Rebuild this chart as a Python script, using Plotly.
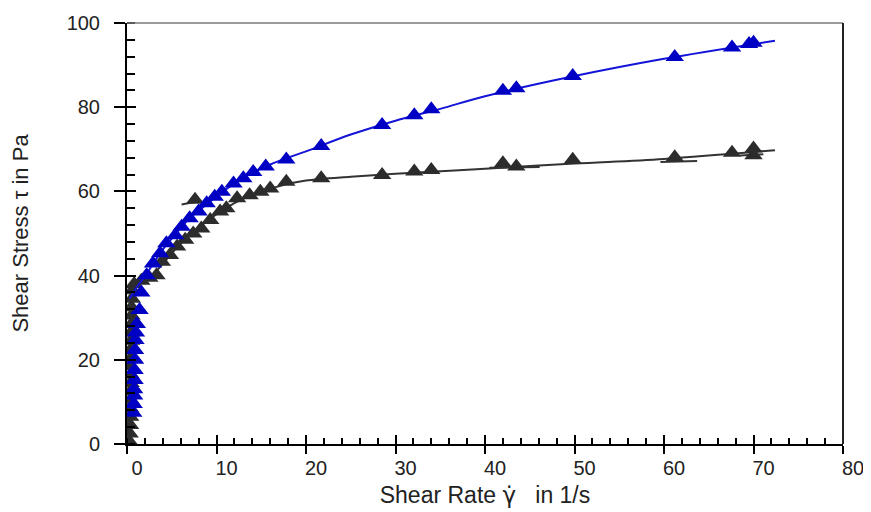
import plotly.graph_objects as go

# ---- data ----
blue_x = [0.7, 0.75, 0.8, 0.8, 0.85, 0.85, 0.9, 0.9, 0.95, 1.0, 1.1, 1.4, 1.6, 2.2, 2.9, 3.7, 4.4, 5.4, 6.1,
          7.0, 8.0, 8.9, 9.8, 10.6, 11.9, 13.0, 14.1, 15.5, 17.8, 21.7, 28.5, 32.1, 34.0, 42.0, 43.5,
          49.8, 61.2, 67.6, 69.5, 70.0]
blue_y = [7.4, 9.5, 11.5, 13.0, 15.2, 17.6, 20.0, 22.3, 24.7, 26.5, 28.5, 31.8, 36.0, 40.1, 42.9, 45.3, 47.7,
          49.6, 51.6, 53.6, 55.2, 57.2, 58.7, 59.9, 61.9, 63.1, 64.6, 65.9, 67.6, 70.8, 75.8, 78.1, 79.5,
          83.9, 84.5, 87.4, 91.9, 94.2, 95.0, 95.3]

black_x = [0.3, 0.3, 0.35, 0.35, 0.35, 0.4, 0.4, 0.4, 0.4, 0.4, 0.45, 0.45, 0.45, 0.45, 0.5, 0.5, 0.5, 0.55,
           0.6, 0.8, 1.6, 2.5, 3.3, 3.9, 4.8, 5.6, 6.5, 7.4, 7.6, 8.3, 9.3, 10.4, 11.1, 12.3, 13.7, 14.9,
           16.0, 17.8, 21.7, 28.5, 32.1, 34.0, 42.0, 43.5, 49.8, 61.2, 67.6, 70.0, 70.0]
black_y = [0.5, 2.5, 4.5, 6.5, 8.5, 10.5, 12.5, 14.5, 16.5, 18.5, 20.5, 22.5, 24.5, 26.5, 28.5, 30.5, 32.5,
           34.5, 36.5, 38.0, 38.8, 39.5, 40.1, 43.3, 44.9, 46.9, 48.5, 50.0, 58.0, 51.2, 53.2, 55.2, 56.0,
           58.4, 59.1, 59.9, 60.7, 62.3, 63.1, 63.9, 64.7, 65.1, 66.7, 65.9, 67.5, 68.1, 69.2, 70.2, 68.6]

# fitted curves
blue_fit_x = [0.3, 1, 2, 3, 4, 5, 6, 7, 8, 9, 10, 12, 14, 16, 18, 20, 25, 30, 35, 40, 50, 60, 72.4]
blue_fit_y = [34.5, 37.0, 39.8, 43.1, 46.2, 48.8, 51.3, 53.6, 55.4, 57.1, 58.8, 61.9, 64.4, 66.4, 68.0,
              69.5, 73.5, 76.8, 79.6, 82.6, 87.4, 91.5, 95.8]
black_fit_x = [0.3, 1, 2, 3, 4, 5, 6, 7, 8, 9, 10, 12, 14, 16, 18, 20, 25, 30, 35, 40, 50, 60, 72.4]
black_fit_y = [37.5, 38.5, 39.3, 40.5, 42.8, 45.3, 47.7, 49.7, 51.4, 53.0, 54.6, 57.2, 59.2, 60.6, 61.8,
               62.6, 63.5, 64.2, 64.8, 65.4, 66.6, 67.7, 69.8]
# short extra black line pieces
black_seg_x = [6.1, 8.3, None, 40.5, 46.1, None, 59.6, 63.7, None, 68.5, 71.1]
black_seg_y = [56.9, 57.8, None, 65.6, 65.8, None, 67.0, 67.2, None, 68.5, 68.8]

x_ticks = [0, 10, 20, 30, 40, 50, 60, 70, 80]
y_ticks = [0, 20, 40, 60, 80, 100]

BLUE = "#0000C4"
BLUE_LINE = "#1414D8"
DARK = "#2C2C2C"
FONT = "Liberation Sans, Arial, sans-serif"

fig = go.Figure()
fig.add_trace(go.Scatter(x=black_fit_x, y=black_fit_y, mode="lines",
                         line=dict(color="#333333", width=2, shape="spline"), showlegend=False))
fig.add_trace(go.Scatter(x=black_seg_x, y=black_seg_y, mode="lines",
                         line=dict(color="#333333", width=2), showlegend=False))
fig.add_trace(go.Scatter(x=black_x, y=black_y, mode="markers",
                         marker=dict(symbol="triangle-up", size=16, color=DARK,
                                     line=dict(width=0)), showlegend=False))
fig.add_trace(go.Scatter(x=blue_fit_x, y=blue_fit_y, mode="lines",
                         line=dict(color=BLUE_LINE, width=2, shape="spline"), showlegend=False))
fig.add_trace(go.Scatter(x=blue_x, y=blue_y, mode="markers",
                         marker=dict(symbol="triangle-up", size=16, color=BLUE,
                                     line=dict(width=0)), showlegend=False))
# carrier for overlay axes (inner half of the crossing major ticks)
fig.add_trace(go.Scatter(x=[None], y=[None], xaxis="x2", yaxis="y2", showlegend=False,
                         hoverinfo="skip"))

fig.update_layout(
    width=863, height=504,
    margin=dict(l=119, r=28, t=15, b=68),
    paper_bgcolor="white", plot_bgcolor="white",
    font=dict(family=FONT, color="#222222", size=20),
    xaxis=dict(range=[0, 80], tickvals=x_ticks, ticktext=[str(v) for v in x_ticks],
               ticks="outside", ticklen=8, tickwidth=2, tickcolor="black", automargin=False,
               showline=True, linecolor="black", linewidth=2, showgrid=False, zeroline=False,
               minor=dict(dtick=2, ticks="inside", ticklen=6, tickwidth=1.5, tickcolor="black",
                          showgrid=False),
               tickfont=dict(size=20), ticklabelshift=10, ticklabelstandoff=-3,
               title=dict(text="Shear Rate <span style='font-family:DejaVu Sans'>γ̇</span>   in 1/s",
                          font=dict(size=23), standoff=9)),
    yaxis=dict(range=[0, 100], tickvals=y_ticks, ticktext=[str(v) for v in y_ticks],
               ticks="outside", ticklen=11, tickwidth=2, tickcolor="black", automargin=False,
               showline=True, linecolor="black", linewidth=2, showgrid=False, zeroline=False,
               minor=dict(dtick=4, ticks="inside", ticklen=8, tickwidth=1.5, tickcolor="black",
                          showgrid=False),
               tickfont=dict(size=20), ticklabelstandoff=10,
               title=dict(text="Shear Stress τ in Pa", font=dict(size=22), standoff=36)),
    xaxis2=dict(overlaying="x", anchor="y", side="bottom", range=[0, 80], tickvals=x_ticks,
                ticks="inside", ticklen=9, tickwidth=2, tickcolor="black", automargin=False,
                showticklabels=False, showline=False, showgrid=False, zeroline=False),
    yaxis2=dict(overlaying="y", anchor="x", side="left", range=[0, 100], tickvals=y_ticks,
                ticks="inside", ticklen=9, tickwidth=2, tickcolor="black", automargin=False,
                showticklabels=False, showline=False, showgrid=False, zeroline=False),
    shapes=[
        dict(type="line", xref="paper", yref="paper", x0=0, x1=1, y0=1, y1=1,
             line=dict(color="#7A7A7A", width=1.5)),
        dict(type="line", xref="paper", yref="paper", x0=1, x1=1, y0=0, y1=1,
             line=dict(color="#222222", width=2)),
    ],
)

fig.write_html("out.html")
